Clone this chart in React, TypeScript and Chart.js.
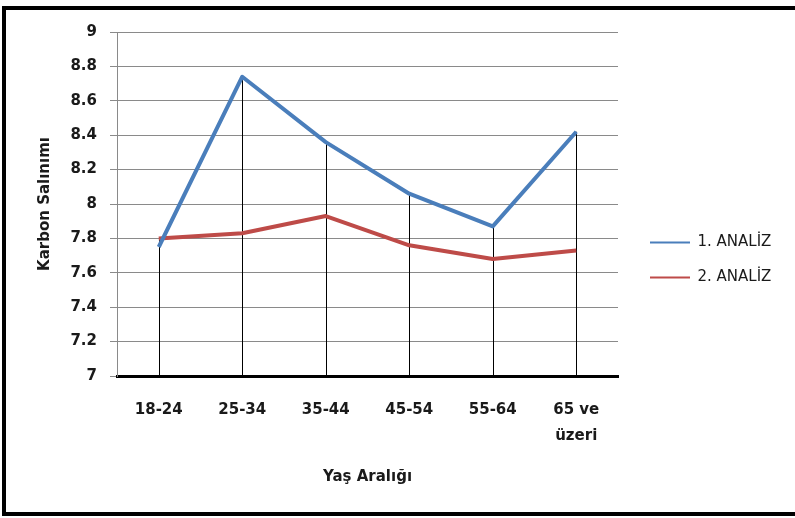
import React, { useEffect, useRef } from "react";
import { Chart, registerables } from "chart.js";

Chart.register(...registerables);

const CATEGORIES: (string | string[])[] = ["18-24", "25-34", "35-44", "45-54", "55-64", ["65 ve", "üzeri"]];
const SERIES_1_LABEL = "1. ANALİZ";
const SERIES_2_LABEL = "2. ANALİZ";
const SERIES_1 = [7.75, 8.74, 8.36, 8.06, 7.87, 8.42];
const SERIES_2 = [7.8, 7.83, 7.93, 7.76, 7.68, 7.73];
const Y_MIN = 7;
const Y_MAX = 9;
const Y_STEP = 0.2;
const Y_TITLE = "Karbon Salınımı";
const X_TITLE = "Yaş Aralığı";

const FONT = "'DejaVu Sans', sans-serif";
const CANVAS_W = 789;
const CANVAS_H = 502;

const dropLines = {
  id: "dropLines",
  beforeDatasetsDraw(chart: any) {
    const { ctx, scales } = chart;
    const x = scales.x;
    const y = scales.y;
    ctx.save();
    ctx.strokeStyle = "#000";
    ctx.lineWidth = 1;
    CATEGORIES.forEach((_, i) => {
      const vals = chart.data.datasets.map((d: any) => d.data[i] as number);
      const top = Math.max(...vals);
      const px = Math.round(x.getPixelForValue(i)) + 0.5;
      ctx.beginPath();
      ctx.moveTo(px, y.getPixelForValue(Y_MIN));
      ctx.lineTo(px, y.getPixelForValue(top));
      ctx.stroke();
    });
    ctx.restore();
  },
};

const legendFit = {
  id: "legendFit",
  afterInit(chart: any) {
    const lg = chart.legend;
    if (!lg) return;
    const orig = lg.fit.bind(lg);
    lg.fit = function () {
      orig();
      this.width = 177;
    };
  },
  afterLayout(chart: any) {
    const lg = chart.legend;
    if (!lg) return;
    lg.left += 12;
    lg.right += 12;
  },
};

export default function App() {
  const ref = useRef<HTMLCanvasElement>(null);
  useEffect(() => {
    if (!ref.current) return;
    const chart = new Chart(ref.current, {
      type: "line",
      data: {
        labels: CATEGORIES as any,
        datasets: [
          {
            label: SERIES_1_LABEL,
            data: SERIES_1,
            borderColor: "#4A7EBB",
            backgroundColor: "#4A7EBB",
            borderWidth: 4,
            pointRadius: 0,
            tension: 0,
            borderJoinStyle: "round",
          },
          {
            label: SERIES_2_LABEL,
            data: SERIES_2,
            borderColor: "#BE4B48",
            backgroundColor: "#BE4B48",
            borderWidth: 4,
            pointRadius: 0,
            tension: 0,
            borderJoinStyle: "round",
          },
        ],
      },
      options: {
        animation: false,
        responsive: true,
        maintainAspectRatio: false,
        layout: { padding: { top: 20, bottom: 22, left: 0, right: 0 } },
        plugins: {
          tooltip: { enabled: false },
          legend: {
            position: "right",
            labels: {
              boxWidth: 40,
              boxHeight: 2,
              padding: 20,
              color: "#1a1a1a",
              font: { family: FONT, size: 15 },
              generateLabels: (chart: any) =>
                chart.data.datasets.map((d: any, i: number) => ({
                  text: d.label,
                  fillStyle: d.borderColor,
                  strokeStyle: d.borderColor,
                  lineWidth: 0,
                  hidden: false,
                  datasetIndex: i,
                  fontColor: "#1a1a1a",
                })),
            },
          },
        },
        scales: {
          x: {
            type: "category",
            offset: true,
            grid: { display: false, drawTicks: false },
            border: { display: true, color: "#000", width: 3 },
            ticks: {
              color: "#1a1a1a",
              padding: 21,
              maxRotation: 0,
              autoSkip: false,
              font: { family: FONT, size: 15, weight: "bold", lineHeight: 1.73 },
            },
            title: {
              display: true,
              text: X_TITLE,
              color: "#1a1a1a",
              font: { family: FONT, size: 15, weight: "bold" },
              padding: { top: 0, bottom: 4 },
            },
            afterFit: (s: any) => {
              s.height = 114;
            },
          },
          y: {
            min: Y_MIN,
            max: Y_MAX,
            grid: { color: "#8a8a8a", lineWidth: 1, tickLength: 7, drawTicks: true },
            border: { display: true, color: "#8a8a8a", width: 1 },
            ticks: {
              stepSize: Y_STEP,
              padding: 13,
              color: "#1a1a1a",
              font: { family: FONT, size: 15, weight: "bold" },
              callback: (v: any) => String(Math.round(Number(v) * 10) / 10),
            },
            title: {
              display: true,
              text: Y_TITLE,
              color: "#1a1a1a",
              font: { family: FONT, size: 15, weight: "bold" },
              padding: { top: 30, bottom: 0 },
            },
            afterFit: (s: any) => {
              s.width = 111;
            },
          },
        },
      },
      plugins: [dropLines, legendFit],
    } as any);
    return () => chart.destroy();
  }, []);

  return (
    <div
      style={{
        position: "fixed",
        left: 2,
        top: 6,
        width: CANVAS_W,
        height: CANVAS_H,
        borderLeft: "4px solid #000",
        borderTop: "4px solid #000",
        borderBottom: "4px solid #000",
        background: "#fff",
      }}
    >
      <div style={{ position: "relative", width: CANVAS_W, height: CANVAS_H }}>
        <canvas ref={ref} />
      </div>
    </div>
  );
}
